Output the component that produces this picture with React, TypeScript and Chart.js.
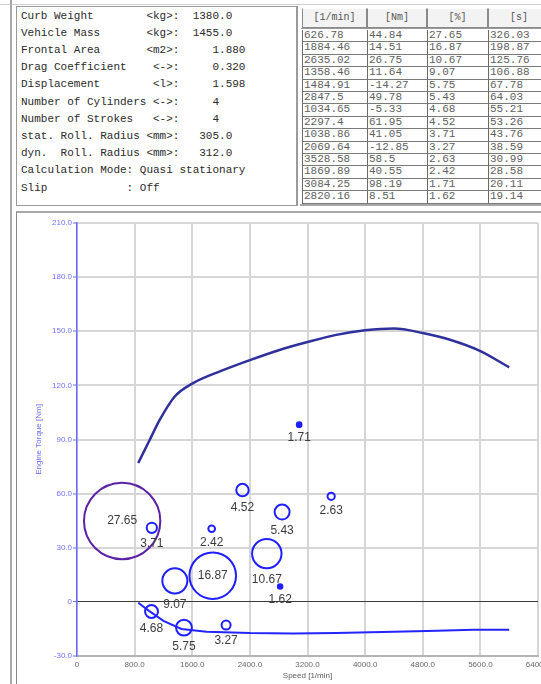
import React, { useEffect, useRef } from "react";
import { Chart, registerables } from "chart.js";

Chart.register(...registerables);

// Operating points: speed [1/min], torque [Nm], time share [%], time [s]
const speeds = [626.78, 1884.46, 2635.02, 1358.46, 1484.91, 2847.5, 1034.65, 2297.4, 1038.86, 2069.64, 3528.58, 1869.89, 3084.25, 2820.16];
const torques = [44.84, 14.51, 26.75, 11.64, -14.27, 49.78, -5.33, 61.95, 41.05, -12.85, 58.5, 40.55, 98.19, 8.51];
const shares = [27.65, 16.87, 10.67, 9.07, 5.75, 5.43, 4.68, 4.52, 3.71, 3.27, 2.63, 2.42, 1.71, 1.62];
const durations = [326.03, 198.87, 125.76, 106.88, 67.78, 64.03, 55.21, 53.26, 43.76, 38.59, 30.99, 28.58, 20.11, 19.14];
const tableHeaders = ["[1/min]", "[Nm]", "[%]", "[s]"];

// Full-load torque curve
const fullLoadSpeed = [850, 1000, 1150, 1360, 1600, 2000, 2400, 2800, 3200, 3600, 4000, 4400, 4800, 5200, 5600, 6000];
const fullLoadTorque = [77, 89, 101, 114, 121, 128, 134, 139.5, 144, 148, 150.5, 151.5, 149, 145, 139, 130];

// Motoring (drag) torque curve
const dragSpeed = [850, 1000, 1200, 1450, 1800, 2400, 3000, 3600, 4400, 5000, 5500, 6000];
const dragTorque = [-0.5, -5, -10.5, -15, -16.5, -17.3, -17.5, -17.3, -16.6, -16, -15.5, -15.4];

// Axis ticks
const speedTicks = [0, 800, 1600, 2400, 3200, 4000, 4800, 5600, 6400];
const torqueTicks = [-30, 0, 30, 60, 90, 120, 150, 180, 210];

const vehicleLines = [
  "Curb Weight        <kg>:  1380.0",
  "Vehicle Mass       <kg>:  1455.0",
  "Frontal Area       <m2>:     1.880",
  "Drag Coefficient    <->:     0.320",
  "Displacement        <l>:     1.598",
  "Number of Cylinders <->:     4",
  "Number of Strokes   <->:     4",
  "stat. Roll. Radius <mm>:   305.0",
  "dyn.  Roll. Radius <mm>:   312.0",
  "Calculation Mode: Quasi stationary",
  "Slip            : Off",
];

const colLeft = [302, 367, 427, 488];
const colWidth = [65, 60, 61, 62];
const ROW_TOP = 30;
const ROW_H = 12.4;

const fmtTick = (v: number) => (v === 0 ? "0" : v.toFixed(1));

const shareLabels = {
  id: "shareLabels",
  afterDatasetsDraw(chart: any) {
    const meta = chart.getDatasetMeta(2);
    const ctx = chart.ctx;
    ctx.save();
    ctx.font = "12px 'Liberation Sans', Arial, sans-serif";
    ctx.fillStyle = "#3c3c3c";
    ctx.textAlign = "center";
    ctx.textBaseline = "middle";
    meta.data.forEach((el: any, i: number) => {
      const r = el.options.radius;
      const y = r > 20 ? el.y : el.y + r + 11;
      ctx.fillText(shares[i].toFixed(2), el.x, y);
    });
    ctx.restore();
  },
};

function TorqueChart() {
  const ref = useRef<HTMLCanvasElement | null>(null);
  useEffect(() => {
    if (!ref.current) return;
    const chart = new Chart(ref.current, {
      type: "scatter",
      data: {
        datasets: [
          {
            type: "line",
            data: fullLoadSpeed.map((x, i) => ({ x, y: fullLoadTorque[i] })),
            borderColor: "#30309c",
            borderWidth: 2.5,
            pointRadius: 0,
            cubicInterpolationMode: "monotone",
            fill: false,
          } as any,
          {
            type: "line",
            data: dragSpeed.map((x, i) => ({ x, y: dragTorque[i] })),
            borderColor: "#2424ff",
            borderWidth: 2,
            pointRadius: 0,
            fill: false,
          } as any,
          {
            type: "scatter",
            data: speeds.map((x, i) => ({ x, y: torques[i] })),
            pointRadius: (c: any) => shares[c.dataIndex] * 1.38,
            pointBorderWidth: 2,
            // the smallest shares shrink to solid dots
            pointBackgroundColor: (c: any) => (shares[c.dataIndex] < 2 ? "#1f1fff" : "rgba(0,0,0,0)"),
            pointBorderColor: (c: any) => (c.dataIndex === 0 ? "#5b22a6" : "#1f1fff"),
          } as any,
        ],
      },
      options: {
        responsive: false,
        animation: false,
        events: [],
        layout: { autoPadding: false, padding: { left: 12, top: 9, right: 20, bottom: 0 } },
        plugins: { legend: { display: false }, tooltip: { enabled: false } },
        scales: {
          x: {
            type: "linear",
            min: 0,
            max: 6400,
            afterFit: (s: any) => {
              s.height = 28;
            },
            afterBuildTicks: (s: any) => {
              s.ticks = speedTicks.map((v) => ({ value: v }));
            },
            ticks: {
              callback: (v: any) => fmtTick(Number(v)),
              color: "#666",
              font: { size: 8, family: "'Liberation Sans', Arial, sans-serif" },
              padding: 4,
              maxRotation: 0,
            },
            grid: { color: "#d6d6d6", lineWidth: 2, drawTicks: false },
            border: { color: "#b4b4b4", width: 2 },
            title: {
              display: true,
              text: "Speed [1/min]",
              color: "#5a5a5a",
              font: { size: 8, family: "'Liberation Sans', Arial, sans-serif" },
              padding: { top: 0, bottom: 3 },
            },
          },
          y: {
            type: "linear",
            min: -30,
            max: 210,
            afterFit: (s: any) => {
              s.width = 47;
            },
            afterBuildTicks: (s: any) => {
              s.ticks = torqueTicks.map((v) => ({ value: v }));
            },
            ticks: {
              callback: (v: any) => fmtTick(Number(v)),
              color: "#7070ff",
              font: { size: 8, family: "'Liberation Sans', Arial, sans-serif" },
              padding: 1,
            },
            grid: {
              color: (c: any) => (c.tick && c.tick.value === 0 ? "#3a3a3a" : "#d6d6d6"),
              lineWidth: (c: any) => (c.tick && c.tick.value === 0 ? 1 : 2),
              tickColor: "#6b6bff",
              tickLength: 4,
              tickWidth: 1,
            },
            border: { color: "#6b6bff", width: 1.5 },
            title: {
              display: true,
              text: "Engine Torque [Nm]",
              color: "#6b6bff",
              font: { size: 8, family: "'Liberation Sans', Arial, sans-serif" },
              padding: { top: 4, bottom: 0 },
            },
          },
        },
      },
      plugins: [shareLabels],
    } as any);
    return () => chart.destroy();
  }, []);
  return (
    <canvas
      ref={ref}
      width={540}
      height={470}
      style={{ position: "absolute", left: 18, top: 214, width: 540, height: 470 }}
    />
  );
}

export default function App() {
  const mono = "'Liberation Mono', 'Courier New', monospace";
  return (
    <div
      style={{
        position: "fixed",
        left: 0,
        top: 0,
        width: 541,
        height: 684,
        background: "#fff",
        overflow: "hidden",
      }}
    >
      {/* window edges */}
      <div style={{ position: "absolute", left: 0, top: 4, width: 541, height: 1, background: "#d0d0d0" }} />
      <div style={{ position: "absolute", left: 10, top: 0, width: 2, height: 684, background: "#a8a8a8" }} />

      {/* vehicle data panel */}
      <div
        style={{
          position: "absolute",
          left: 16,
          top: 6,
          width: 279,
          height: 198,
          border: "1px solid #9a9a9a",
          borderRight: "2px solid #9a9a9a",
          background: "#fff",
        }}
      />
      <pre
        style={{
          position: "absolute",
          left: 21,
          top: 7.5,
          margin: 0,
          font: `11px/17.2px ${mono}`,
          color: "#2a2a2a",
          whiteSpace: "pre",
        }}
      >
        {vehicleLines.join("\n")}
      </pre>

      {/* operating point table */}
      {tableHeaders.map((h, c) => (
        <div
          key={"h" + c}
          style={{
            position: "absolute",
            left: colLeft[c],
            top: 8,
            width: colWidth[c] - 2,
            height: 18,
            borderTop: "1px solid #fff",
            borderLeft: "1px solid #8a8a8a",
            borderRight: "1px solid #8a8a8a",
            borderBottom: "1px solid #8a8a8a",
            background: "#f3f3f3",
            font: `10px/18px ${mono}`,
            color: "#555",
            textAlign: "center",
          }}
        >
          {h}
        </div>
      ))}
      <div style={{ position: "absolute", left: 301, top: 28, width: 240, height: 1, background: "#9a9a9a" }} />
      {speeds.map((s, r) =>
        [String(s), String(torques[r]), String(shares[r]), String(durations[r])].map((t, c) => (
          <div
            key={r + "-" + c}
            style={{
              position: "absolute",
              left: colLeft[c],
              top: ROW_TOP + r * ROW_H,
              width: colWidth[c] - 1,
              height: ROW_H - 1,
              borderLeft: "1px solid #6a6a6a",
              borderBottom: "1px solid #7a7a7a",
              background: "#fff",
              font: `11px/${ROW_H - 1}px ${mono}`,
              color: "#606060",
              paddingLeft: 1,
              boxSizing: "content-box",
              overflow: "hidden",
              whiteSpace: "nowrap",
            }}
          >
            {t}
          </div>
        ))
      )}
      <div style={{ position: "absolute", left: 300, top: 204, width: 241, height: 2, background: "#a8a8a8" }} />

      {/* chart panel */}
      <div
        style={{
          position: "absolute",
          left: 16,
          top: 211,
          width: 530,
          height: 480,
          borderTop: "2px solid #a8a8a8",
          borderLeft: "1px solid #8a8a8a",
        }}
      />
      <TorqueChart />
    </div>
  );
}
